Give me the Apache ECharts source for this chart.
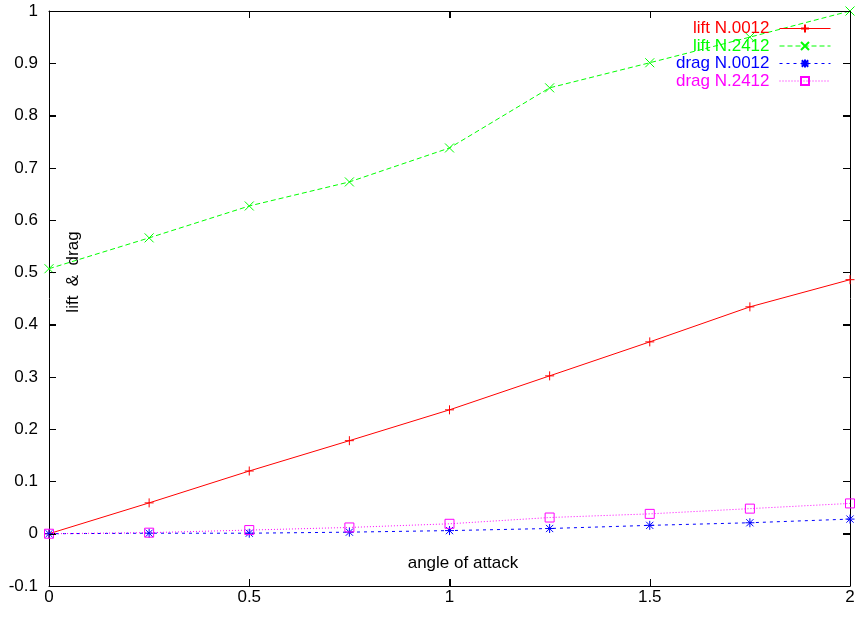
<!DOCTYPE html>
<html>
<head>
<meta charset="utf-8">
<script src="https://cdn.jsdelivr.net/npm/echarts@6/dist/echarts.min.js"></script>
<style>
html,body{margin:0;padding:0;background:#fff;}
#chart{width:859px;height:618px;}
</style>
</head>
<body>
<div id="chart"></div>
<script>
var angles = [0, 0.25, 0.5, 0.75, 1, 1.25, 1.5, 1.75, 2];
var liftN0012 = [0, 0.059, 0.120, 0.178, 0.237, 0.302, 0.367, 0.434, 0.486];
var liftN2412 = [0.507, 0.566, 0.627, 0.673, 0.738, 0.853, 0.901, 0.950, 1.0];
var dragN0012 = [0, 0.001, 0.001, 0.003, 0.006, 0.010, 0.016, 0.021, 0.028];
var dragN2412 = [0, 0.002, 0.007, 0.012, 0.019, 0.031, 0.038, 0.048, 0.058];
var seriesNames = ['lift N.0012', 'lift N.2412', 'drag N.0012', 'drag N.2412'];
var xTicks = [0, 0.5, 1, 1.5, 2];
var yTicks = [-0.1, 0, 0.1, 0.2, 0.3, 0.4, 0.5, 0.6, 0.7, 0.8, 0.9, 1];
var xTitle = 'angle of attack';
var yTitle = 'lift  &  drag';

function pairs(ys) { return angles.map(function (a, i) { return [a, ys[i]]; }); }

var FONT = 'Liberation Sans, Arial, Helvetica, sans-serif';
var FS = 17;
var TICK_LEN = 7;
var colors = ['#ff0000', '#00ff00', '#0000ff', '#ff00ff'];
var symbols = [
  'path://M0,5L10,5M5,0L5,10',
  'path://M0,0L10,10M10,0L0,10',
  'path://M0,5L10,5M5,0L5,10M1,1L9,9M9,1L1,9',
  'path://M0,0L10,0L10,10L0,10Z'
];
var dashes = ['solid', [5, 3], [3, 4], [1, 2]];
var dataSets = [liftN0012, liftN2412, dragN0012, dragN2412];

function mkSeries(i) {
  return {
    name: seriesNames[i],
    type: 'line',
    data: pairs(dataSets[i]),
    symbol: symbols[i],
    symbolSize: 9,
    showAllSymbol: true,
    lineStyle: { color: colors[i], width: 1, type: dashes[i] },
    itemStyle: { color: 'transparent', borderColor: colors[i], borderWidth: 1 },
    emphasis: { disabled: true }
  };
}

function mkAxis(extra) {
  var a = {
    type: 'value',
    axisLine: { show: true, onZero: false, lineStyle: { color: '#000', width: 1 } },
    axisTick: { show: true, inside: true, length: TICK_LEN, lineStyle: { color: '#000', width: 1 } },
    splitLine: { show: false }
  };
  for (var k in extra) a[k] = extra[k];
  return a;
}

var xMin = xTicks[0], xMax = xTicks[xTicks.length - 1];
var yMin = yTicks[0], yMax = yTicks[yTicks.length - 1];

var option = {
  animation: false,
  grid: { left: 49, right: 9, top: 11, bottom: 32 },
  xAxis: [
    mkAxis({ min: xMin, max: xMax, interval: 0.5, position: 'bottom',
      axisLabel: { color: '#000', fontSize: FS, fontFamily: FONT, margin: 3 } }),
    mkAxis({ min: xMin, max: xMax, interval: 0.5, position: 'top', axisLabel: { show: false } })
  ],
  yAxis: [
    mkAxis({ min: yMin, max: yMax, interval: 0.1, position: 'left',
      axisLabel: { color: '#000', fontSize: FS, fontFamily: FONT, margin: 11 } }),
    mkAxis({ min: yMin, max: yMax, interval: 0.1, position: 'right', axisLabel: { show: false } })
  ],
  legend: {
    orient: 'vertical',
    right: 23,
    top: 15,
    align: 'right',
    itemWidth: 51,
    itemHeight: 10,
    itemGap: 0.5,
    textStyle: { fontSize: FS, fontFamily: FONT, padding: [0, 5, 0, 0] },
    data: seriesNames.map(function (n, i) {
      return { name: n, textStyle: { color: colors[i] },
        lineStyle: { color: colors[i], width: 1, type: dashes[i] } };
    }),
    selectedMode: false
  },
  series: [mkSeries(0), mkSeries(1), mkSeries(2), mkSeries(3)]
};

var chart = echarts.init(document.getElementById('chart'), null, { renderer: 'canvas' });
chart.setOption(option);

// Mirrored inward tick marks on all four sides, positioned through the chart's own scales.
function px(v) { return Math.round(v) + 0.5; }
function toPx(x, y) { return chart.convertToPixel({ xAxisIndex: 0, yAxisIndex: 0 }, [x, y]); }
var tickEls = [];
function tickLine(x1, y1, x2, y2) {
  tickEls.push({ type: 'line', silent: true, z: 50,
    shape: { x1: x1, y1: y1, x2: x2, y2: y2 },
    style: { stroke: '#000', lineWidth: 1 } });
}
xTicks.forEach(function (v) {
  var b = toPx(v, yMin), t = toPx(v, yMax);
  var x = px(b[0]);
  tickLine(x, b[1], x, b[1] - TICK_LEN);
  tickLine(x, t[1], x, t[1] + TICK_LEN);
});
yTicks.forEach(function (v) {
  var l = toPx(xMin, v), r = toPx(xMax, v);
  var y = px(l[1]);
  tickLine(l[0], y, l[0] + TICK_LEN, y);
  tickLine(r[0], y, r[0] - TICK_LEN, y);
});

var textEls = [
  { type: 'text', x: 463, y: 563, z: 50,
    style: { text: xTitle, fill: '#000', font: FS + 'px ' + FONT, align: 'center', verticalAlign: 'middle' } },
  { type: 'text', x: 73, y: 272, rotation: Math.PI / 2, z: 50,
    style: { text: yTitle, fill: '#000', font: FS + 'px ' + FONT, align: 'center', verticalAlign: 'middle' } }
];

chart.setOption({ graphic: textEls.concat(tickEls) });
</script>
</body>
</html>
